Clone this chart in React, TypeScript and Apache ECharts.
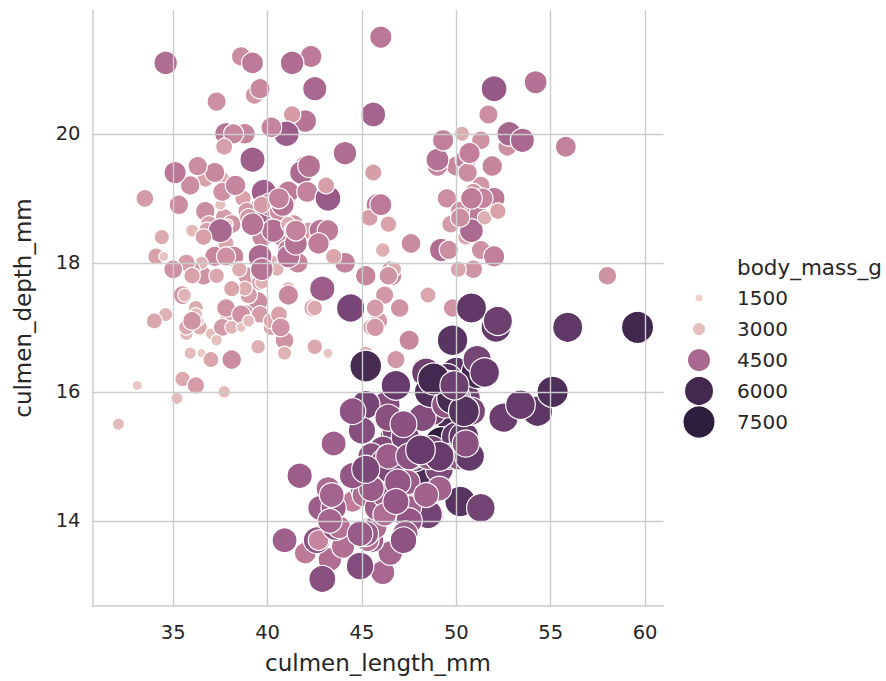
import React, { useEffect, useRef } from "react";
import * as echarts from "echarts";

// Palmer penguins: [culmen_length_mm, culmen_depth_mm, body_mass_g]
const adelie: number[][] = [
  [39.1, 18.7, 3750], [39.5, 17.4, 3800], [40.3, 18.0, 3250], [36.7, 19.3, 3450], [39.3, 20.6, 3650],
  [38.9, 17.8, 3625], [39.2, 19.6, 4675], [34.1, 18.1, 3475], [42.0, 20.2, 4250], [37.8, 17.1, 3300],
  [37.8, 17.3, 3700], [41.1, 17.6, 3200], [38.6, 21.2, 3800], [34.6, 21.1, 4400], [36.6, 17.8, 3700],
  [38.7, 19.0, 3450], [42.5, 20.7, 4500], [34.4, 18.4, 3325], [46.0, 21.5, 4200], [37.8, 18.3, 3400],
  [37.7, 18.7, 3600], [35.9, 19.2, 3800], [38.2, 18.1, 3950], [38.8, 17.2, 3800], [35.3, 18.9, 3800],
  [40.6, 18.6, 3550], [40.5, 17.9, 3200], [37.9, 18.6, 3150], [40.5, 18.9, 3950], [39.5, 16.7, 3250],
  [37.2, 18.1, 3900], [39.5, 17.8, 3300], [40.9, 18.9, 3900], [36.4, 17.0, 3325], [39.2, 21.1, 4150],
  [38.8, 20.0, 3950], [42.2, 18.5, 3550], [37.6, 19.3, 3300], [39.8, 19.1, 4650], [36.5, 18.0, 3150],
  [40.8, 18.4, 3900], [36.0, 18.5, 3100], [44.1, 19.7, 4400], [37.0, 16.9, 3000], [39.6, 18.8, 4600],
  [41.1, 19.0, 3425], [37.5, 18.9, 2975], [36.0, 17.9, 3450], [42.3, 21.2, 4150], [39.6, 17.7, 3500],
  [40.1, 18.9, 4300], [35.0, 17.9, 3450], [42.0, 19.5, 4050], [34.5, 18.1, 2900], [41.4, 18.6, 3700],
  [39.0, 17.5, 3550], [40.6, 18.8, 3800], [36.5, 16.6, 2850], [37.6, 19.1, 3750], [35.7, 16.9, 3150],
  [41.3, 21.1, 4400], [37.6, 17.0, 3600], [41.1, 18.2, 4050], [36.4, 17.1, 2850], [41.6, 18.0, 3950],
  [35.5, 16.2, 3350], [41.1, 19.1, 4100], [35.9, 16.6, 3050], [41.8, 19.4, 4450], [33.5, 19.0, 3600],
  [39.7, 18.4, 3900], [39.6, 17.2, 3550], [45.8, 18.9, 4150], [35.5, 17.5, 3700], [42.8, 18.5, 4250],
  [40.9, 16.8, 3700], [37.2, 19.4, 3900], [36.2, 16.1, 3550], [42.1, 19.1, 4000], [34.6, 17.2, 3200],
  [42.9, 17.6, 4700], [36.7, 18.8, 3800], [35.1, 19.4, 4200], [37.3, 17.8, 3350], [41.3, 20.3, 3550],
  [36.3, 19.5, 3800], [36.9, 18.6, 3500], [38.3, 19.2, 3950], [38.9, 18.8, 3600], [35.7, 18.0, 3550],
  [41.1, 18.1, 4300], [34.0, 17.1, 3400], [39.6, 18.1, 4450], [36.2, 17.3, 3300], [40.8, 18.9, 4300],
  [38.1, 18.6, 3700], [40.3, 18.5, 4350], [33.1, 16.1, 2900], [43.2, 18.5, 4100], [35.0, 17.9, 3725],
  [41.0, 20.0, 4725], [37.7, 16.0, 3075], [37.8, 20.0, 4250], [37.9, 18.6, 2925], [39.7, 18.9, 3550],
  [38.6, 17.2, 3750], [38.2, 20.0, 3900], [38.1, 17.0, 3175], [43.2, 19.0, 4775], [38.1, 16.5, 3825],
  [45.6, 20.3, 4600], [39.7, 17.7, 3200], [42.2, 19.5, 4275], [39.6, 20.7, 3900], [42.7, 18.3, 4075],
  [38.6, 17.0, 2900], [37.3, 20.5, 3775], [35.7, 17.0, 3350], [41.1, 18.6, 3325], [36.2, 17.2, 3150],
  [37.7, 19.8, 3500], [40.2, 17.0, 3450], [41.4, 18.5, 3875], [35.2, 15.9, 3050], [40.6, 19.0, 4000],
  [38.8, 17.6, 3275], [41.5, 18.3, 4300], [39.0, 17.1, 3050], [44.1, 18.0, 4000], [38.5, 17.9, 3325],
  [43.1, 19.2, 3500], [36.8, 18.5, 3500], [37.5, 18.5, 4475], [38.1, 17.6, 3425], [41.1, 17.5, 3900],
  [35.6, 17.5, 3175], [40.2, 20.1, 3975], [37.0, 16.5, 3400], [39.7, 17.9, 4250], [40.2, 17.1, 3400],
  [40.6, 17.2, 3475], [32.1, 15.5, 3050], [40.7, 17.0, 3725], [37.3, 16.8, 3000], [39.0, 18.7, 3650],
  [39.2, 18.6, 4250], [36.6, 18.4, 3475], [36.0, 17.8, 3450], [37.8, 18.1, 3750], [36.0, 17.1, 3700],
  [41.5, 18.5, 4000],
];

const chinstrap: number[][] = [
  [46.5, 17.9, 3500], [50.0, 19.5, 3900], [51.3, 19.2, 3650], [45.4, 18.7, 3525], [52.7, 19.8, 3725],
  [45.2, 17.8, 3950], [46.1, 18.2, 3250], [51.3, 18.2, 3750], [46.0, 18.9, 4150], [51.3, 19.9, 3700],
  [46.6, 17.8, 3800], [51.7, 20.3, 3775], [47.0, 17.3, 3700], [52.0, 18.1, 4050], [45.9, 17.1, 3575],
  [50.5, 19.6, 4050], [50.3, 20.0, 3300], [58.0, 17.8, 3700], [46.4, 18.6, 3450], [49.2, 18.2, 4400],
  [42.4, 17.3, 3600], [48.5, 17.5, 3400], [43.2, 16.6, 2900], [50.6, 19.4, 3800], [46.7, 17.9, 3300],
  [52.0, 19.0, 4150], [50.5, 18.4, 3400], [49.5, 19.0, 3800], [46.4, 17.8, 3700], [52.8, 20.0, 4550],
  [40.9, 16.6, 3200], [54.2, 20.8, 4300], [42.5, 16.7, 3350], [51.0, 18.8, 4100], [49.7, 18.6, 3600],
  [47.5, 16.8, 3900], [47.6, 18.3, 3850], [52.0, 20.7, 4800], [46.9, 16.6, 2700], [53.5, 19.9, 4500],
  [49.0, 19.5, 3950], [46.2, 17.5, 3650], [50.9, 19.1, 3550], [45.5, 17.0, 3500], [50.9, 17.9, 3675],
  [50.8, 18.5, 4450], [50.1, 17.9, 3400], [49.0, 19.6, 4300], [51.5, 18.7, 3250], [49.8, 17.3, 3675],
  [48.1, 16.4, 3325], [51.4, 19.0, 3950], [45.7, 17.3, 3600], [50.7, 19.7, 4050], [42.5, 17.3, 3350],
  [52.2, 18.8, 3450], [45.2, 16.6, 3250], [49.3, 19.9, 4050], [50.2, 18.8, 3800], [45.6, 19.4, 3525],
  [51.9, 19.5, 3950], [46.8, 16.5, 3650], [45.7, 17.0, 3650], [55.8, 19.8, 4000], [43.5, 18.1, 3400],
  [49.6, 18.2, 3775], [50.8, 19.0, 4100], [50.2, 18.7, 3775],
];

const gentoo: number[][] = [
  [46.1, 13.2, 4500], [50.0, 16.3, 5700], [48.7, 14.1, 4450], [50.0, 15.2, 5700], [47.6, 14.5, 5400],
  [46.5, 13.5, 4550], [45.4, 14.6, 4800], [46.7, 15.3, 5200], [43.3, 13.4, 4400], [46.8, 15.4, 5150],
  [40.9, 13.7, 4650], [49.0, 16.1, 5550], [45.5, 13.7, 4650], [48.4, 14.6, 5850], [45.8, 14.6, 4200],
  [49.3, 15.7, 5850], [42.0, 13.5, 4150], [49.2, 15.2, 6300], [46.2, 14.5, 4800], [48.7, 15.1, 5350],
  [50.2, 14.3, 5700], [45.1, 14.5, 5000], [46.5, 14.5, 4400], [46.3, 15.8, 5050], [42.9, 13.1, 5000],
  [46.1, 15.1, 5100], [44.5, 14.3, 4100], [47.8, 15.0, 5650], [48.2, 14.3, 4600], [50.0, 15.3, 5550],
  [47.3, 15.3, 5250], [42.8, 14.2, 4700], [45.1, 14.5, 5050], [59.6, 17.0, 6050], [49.1, 14.8, 5150],
  [48.4, 16.3, 5400], [42.6, 13.7, 4950], [44.4, 17.3, 5250], [44.0, 13.6, 4350], [48.7, 15.7, 5350],
  [42.7, 13.7, 3950], [49.6, 16.0, 5700], [45.3, 13.7, 4300], [49.6, 15.0, 4750], [50.5, 15.9, 5550],
  [43.6, 13.9, 4900], [45.5, 13.9, 4200], [50.5, 15.9, 5400], [44.9, 13.3, 5100], [45.2, 15.8, 5300],
  [46.6, 14.2, 4850], [48.5, 14.1, 5300], [45.1, 14.4, 4400], [50.1, 15.0, 5000], [46.5, 14.4, 4900],
  [45.0, 15.4, 5050], [43.8, 13.9, 4300], [45.5, 15.0, 5000], [43.2, 14.5, 4450], [50.4, 15.3, 5550],
  [45.3, 13.8, 4200], [46.2, 14.9, 5300], [45.7, 13.9, 4400], [54.3, 15.7, 5650], [45.8, 14.2, 4700],
  [49.8, 16.8, 5700], [46.2, 14.4, 4650], [49.5, 16.2, 5800], [43.5, 14.2, 4700], [50.7, 15.0, 5550],
  [47.7, 15.0, 4750], [46.4, 15.6, 5000], [48.2, 15.6, 5100], [46.5, 14.8, 5200], [46.4, 15.0, 4700],
  [48.6, 16.0, 5800], [47.5, 14.2, 4600], [51.1, 16.3, 6000], [45.2, 13.8, 4750], [45.2, 16.4, 5950],
  [49.1, 14.5, 4625], [52.5, 15.6, 5450], [47.4, 14.6, 4725], [50.0, 15.9, 5350], [44.9, 13.8, 4750],
  [50.8, 17.3, 5600], [43.4, 14.4, 4600], [51.3, 14.2, 5300], [47.5, 14.0, 4875], [52.1, 17.0, 5550],
  [47.5, 15.0, 4950], [52.2, 17.1, 5400], [45.5, 14.5, 4750], [49.5, 16.1, 5650], [44.5, 14.7, 4850],
  [50.8, 15.7, 5200], [49.4, 15.8, 4925], [46.9, 14.6, 4875], [48.4, 14.4, 4625], [51.1, 16.5, 5250],
  [48.5, 15.0, 4850], [55.9, 17.0, 5600], [47.2, 15.5, 4975], [49.1, 15.0, 5500], [47.3, 13.8, 4725],
  [46.8, 16.1, 5500], [41.7, 14.7, 4700], [53.4, 15.8, 5500], [43.3, 14.0, 4575], [48.1, 15.1, 5500],
  [50.5, 15.2, 5000], [49.8, 15.9, 5950], [43.5, 15.2, 4650], [51.5, 16.3, 5500], [46.2, 14.1, 4375],
  [55.1, 16.0, 5850], [44.5, 15.7, 4925], [48.8, 16.2, 6000], [47.2, 13.7, 4925], [46.8, 14.3, 4850],
  [50.4, 15.7, 5750], [45.2, 14.8, 5200], [49.9, 16.1, 5400],
];

const xTicks = [35, 40, 45, 50, 55, 60];
const yTicks = [14, 16, 18, 20];
const legendValues = [1500, 3000, 4500, 6000, 7500];

// seaborn's default sequential cubehelix palette, light to dark
const palette = ["#edd1cb", "#daa4ac", "#bd7a98", "#935685", "#613969", "#2d1e3e"];

const FONT = "DejaVu Sans";
const TEXT = "#262626";
const GRID = "#cccccc";

// marker area (px^2) at the lightest and heaviest bird
const AREA_MIN = 24;
const AREA_MAX = 1030;
const EDGE = 1.2;

// legend marker diameters, px
const legendSizes = [7, 12, 22, 28, 31];

function hexToRgb(h: string) {
  const n = parseInt(h.slice(1), 16);
  return [(n >> 16) & 255, (n >> 8) & 255, n & 255];
}

function paletteColor(t: number) {
  const c = Math.max(0, Math.min(1, t)) * (palette.length - 1);
  const i = Math.min(palette.length - 2, Math.floor(c));
  const f = c - i;
  const a = hexToRgb(palette[i]);
  const b = hexToRgb(palette[i + 1]);
  const m = a.map((v, k) => Math.round(v + (b[k] - v) * f));
  return `rgb(${m[0]},${m[1]},${m[2]})`;
}

export default function App() {
  const ref = useRef<HTMLDivElement>(null);

  useEffect(() => {
    if (!ref.current) return;
    const chart = echarts.init(ref.current, undefined, { renderer: "svg" });

    const points = [...adelie, ...chinstrap, ...gentoo];
    const masses = points.map((p) => p[2]);
    const massMin = Math.min(...masses);
    const massMax = Math.max(...masses);
    const norm = (m: number) => (m - massMin) / (massMax - massMin);
    const markerSize = (m: number) =>
      Math.sqrt(Math.max(4, AREA_MIN + norm(m) * (AREA_MAX - AREA_MIN))) + EDGE;

    const legendX = 699;
    const legendTextX = 737;
    const legendTop = 298;
    const legendStep = 31;

    const legendGraphics: any[] = [
      {
        type: "text",
        x: legendTextX,
        y: 267,
        style: {
          text: "body_mass_g",
          fontFamily: FONT,
          fontSize: 21.5,
          fill: TEXT,
          verticalAlign: "middle",
          align: "left",
        },
      },
    ];
    legendValues.forEach((v, i) => {
      const cy = legendTop + i * legendStep;
      legendGraphics.push({
        type: "circle",
        shape: { cx: legendX, cy, r: legendSizes[i] / 2 + EDGE / 2 },
        style: { fill: paletteColor(norm(v)), stroke: "#ffffff", lineWidth: EDGE },
      });
      legendGraphics.push({
        type: "text",
        x: legendTextX,
        y: cy,
        style: {
          text: String(v),
          fontFamily: FONT,
          fontSize: 20,
          fill: TEXT,
          verticalAlign: "middle",
          align: "left",
        },
      });
    });

    chart.setOption({
      animation: false,
      backgroundColor: "#ffffff",
      textStyle: { fontFamily: FONT },
      grid: {
        left: 92.5,
        top: 10,
        width: 571,
        height: 596,
        containLabel: false,
        outerBoundsMode: "none",
      },
      xAxis: {
        type: "value",
        min: 30.725,
        max: 60.975,
        name: "culmen_length_mm",
        nameLocation: "middle",
        nameGap: 45,
        nameTextStyle: { fontFamily: FONT, fontSize: 23, color: TEXT },
        axisLine: { show: true, lineStyle: { color: GRID, width: 1.5 } },
        axisTick: { show: false },
        splitLine: { show: false },
        axisLabel: {
          showMinLabel: false,
          showMaxLabel: false,
          margin: 16,
          fontFamily: FONT,
          fontSize: 19.5,
          color: TEXT,
        },
      },
      yAxis: {
        type: "value",
        min: 12.68,
        max: 21.92,
        name: "culmen_depth_mm",
        nameLocation: "middle",
        nameGap: 58,
        nameTextStyle: { fontFamily: FONT, fontSize: 23, color: TEXT },
        axisLine: { show: true, lineStyle: { color: GRID, width: 1.5 } },
        axisTick: { show: false },
        splitLine: { show: false },
        axisLabel: {
          showMinLabel: false,
          showMaxLabel: false,
          margin: 12,
          fontFamily: FONT,
          fontSize: 19.5,
          color: TEXT,
        },
      },
      visualMap: {
        type: "continuous",
        show: false,
        seriesIndex: 1,
        dimension: 2,
        min: massMin,
        max: massMax,
        inRange: { color: palette },
      },
      series: [
        {
          // grid lines at the tick values, drawn beneath the points
          type: "scatter",
          data: [],
          silent: true,
          z: 1,
          markLine: {
            silent: true,
            symbol: ["none", "none"],
            label: { show: false },
            lineStyle: { color: GRID, width: 1.4, type: "solid" },
            emphasis: { disabled: true },
            data: [
              ...xTicks.map((v) => ({ xAxis: v })),
              ...yTicks.map((v) => ({ yAxis: v })),
            ],
          },
        },
        {
          type: "scatter",
          z: 2,
          data: points,
          symbol: "circle",
          symbolSize: (v: number[]) => markerSize(v[2]),
          itemStyle: { borderColor: "#ffffff", borderWidth: EDGE, opacity: 1 },
          emphasis: { disabled: true },
        },
      ],
      graphic: legendGraphics,
    });

    return () => chart.dispose();
  }, []);

  return (
    <div
      ref={ref}
      style={{ position: "absolute", left: 0, top: 0, width: 886, height: 681 }}
    />
  );
}
